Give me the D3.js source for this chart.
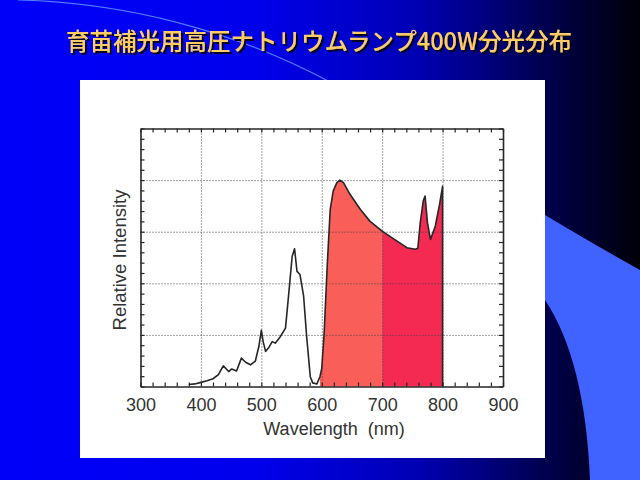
<!DOCTYPE html>
<html>
<head>
<meta charset="utf-8">
<script src="https://cdn.jsdelivr.net/npm/d3@7"></script>
<style>
  html, body { margin: 0; padding: 0; background: #000; }
  svg { display: block; }
</style>
</head>
<body>
<svg id="chart" width="640" height="480"></svg>
<script>
// ---- data ----
const title = "育苗補光用高圧ナトリウムランプ400W分光分布";
const xLabel = "Wavelength  (nm)";
const yLabel = "Relative Intensity";
const xTickLabels = [300, 400, 500, 600, 700, 800, 900];
const wavelength = [380, 390, 400, 410, 420, 429, 437, 446, 451, 459, 467, 474, 482, 490, 496, 500, 503, 507, 512, 518, 523, 531, 540, 545, 551, 555, 559, 564, 570, 575, 581, 585, 592, 597, 600, 604, 609, 614, 619, 625, 630, 636, 647, 664, 680, 700, 719, 741, 755, 759, 763, 768, 771, 775, 780, 788, 795, 800, 800];
const intensity  = [0.04, 0.05, 0.08, 0.11, 0.15, 0.23, 0.40, 0.29, 0.34, 0.30, 0.55, 0.47, 0.42, 0.49, 0.78, 1.09, 0.87, 0.68, 0.75, 0.87, 0.84, 0.96, 1.13, 1.75, 2.52, 2.67, 2.23, 2.17, 1.75, 0.97, 0.19, 0.07, 0.05, 0.19, 0.35, 1.04, 2.33, 3.43, 3.79, 3.95, 4.00, 3.95, 3.72, 3.43, 3.20, 3.01, 2.86, 2.69, 2.66, 2.68, 3.17, 3.60, 3.69, 3.17, 2.85, 3.11, 3.53, 3.88, 0.00];
const bandStarts = [597, 700];
const bandEnds   = [700, 800];
const bandColors = ["#fa5e58", "#f42a52"];

const svg = d3.select("#chart");
const defs = svg.append("defs");

// ---- slide background ----
const grad = defs.append("linearGradient").attr("id", "bg").attr("x1", "0").attr("x2", "1").attr("y1", "0").attr("y2", "0");
[[0, "#0000fa"], [0.4, "#0000ec"], [0.65, "#0000b4"], [0.85, "#000050"], [1, "#000008"]]
  .forEach(([o, c]) => grad.append("stop").attr("offset", o).attr("stop-color", c));
svg.append("rect").attr("width", 640).attr("height", 480).attr("fill", "url(#bg)");

const shadow = defs.append("filter").attr("id", "shadow").attr("x", "-5%").attr("y", "-20%").attr("width", "110%").attr("height", "150%");
shadow.append("feDropShadow").attr("dx", 2).attr("dy", 2).attr("stdDeviation", 0).attr("flood-color", "#000020").attr("flood-opacity", 1);

// decorative arc
svg.append("path").attr("d", "M 18,0 A 702 702 0 0 1 330,82")
  .attr("fill", "none").attr("stroke", "#4f7cff").attr("stroke-width", 1.2);
// decorative bottom-right shape
svg.append("path")
  .attr("d", "M 470,175 L 545,215 Q 595,245 640,270 L 640,480 L 590,480 Q 585,360 545,300 Q 520,262 470,240 Z")
  .attr("fill", "#4062ff");

// ---- white chart panel ----
svg.append("rect").attr("x", 80).attr("y", 80).attr("width", 465).attr("height", 378).attr("fill", "#ffffff");

// ---- scales ----
const pL = 140.5, pR = 503, pT = 128.5, pB = 386.5;
const x = d3.scaleLinear().domain([300, 900]).range([pL, pR]);
const y = d3.scaleLinear().domain([0, 5]).range([pB, pT]);
const ink = "#262626";

const plot = svg.append("g");

// filled bands
const pts = wavelength.map((w, i) => ({ w, v: intensity[i] }));
const area = d3.area().x(d => x(d.w)).y0(y(0)).y1(d => y(d.v));
bandStarts.forEach((s, i) => {
  const e = bandEnds[i];
  let seg = pts.filter(d => d.w >= s && d.w <= e);
  if (i === bandStarts.length - 1) seg = seg.filter(d => !(d.w === e && d.v === 0));
  plot.append("path").datum(seg).attr("d", area).attr("fill", bandColors[i]);
});

// gridlines
const grid = plot.append("g");
grid.append("g").attr("transform", `translate(0,${pB})`)
  .call(d3.axisBottom(x).tickValues(xTickLabels.slice(1, -1)).tickSize(-(pB - pT)).tickFormat(""))
  .call(g => g.select(".domain").remove());
grid.append("g").attr("transform", `translate(${pL},0)`)
  .call(d3.axisLeft(y).tickValues([1, 2, 3, 4]).tickSize(-(pR - pL)).tickFormat(""))
  .call(g => g.select(".domain").remove());
grid.selectAll("line").attr("stroke", "#444").attr("stroke-width", 1).attr("stroke-dasharray", "1,2");

// spectrum line
const line = d3.line().x(d => x(d.w)).y(d => y(d.v));
plot.append("path").datum(pts).attr("d", line)
  .attr("fill", "none").attr("stroke", ink).attr("stroke-width", 1.6).attr("stroke-linejoin", "round");

// frame ticks (inward)
const minorX = d3.range(300, 901, 20);
const minorY = d3.range(0, 5.001, 0.2);
function styleAxis(g) {
  g.select(".domain").attr("stroke", ink).attr("stroke-width", 1.6);
  g.selectAll(".tick line").attr("stroke", ink).attr("stroke-width", 1.2);
}
plot.append("g").attr("transform", `translate(0,${pB})`)
  .call(d3.axisBottom(x).tickValues(minorX).tickSize(-4).tickSizeOuter(0).tickFormat("")).call(styleAxis);
plot.append("g").attr("transform", `translate(0,${pT})`)
  .call(d3.axisTop(x).tickValues(minorX).tickSize(-4).tickSizeOuter(0).tickFormat("")).call(styleAxis);
plot.append("g").attr("transform", `translate(${pL},0)`)
  .call(d3.axisLeft(y).tickValues(minorY).tickSize(-4).tickSizeOuter(0).tickFormat("")).call(styleAxis);
plot.append("g").attr("transform", `translate(${pR},0)`)
  .call(d3.axisRight(y).tickValues(minorY).tickSize(-4).tickSizeOuter(0).tickFormat("")).call(styleAxis);

// tick labels
const labelAxis = plot.append("g").attr("transform", `translate(0,${pB})`)
  .call(d3.axisBottom(x).tickValues(xTickLabels).tickSize(0).tickFormat(d3.format("d")));
labelAxis.select(".domain").remove();
labelAxis.selectAll("text")
  .attr("y", 24).attr("dy", 0)
  .attr("font-family", "Liberation Sans, Arial, Helvetica, sans-serif")
  .attr("font-size", 18).attr("fill", "#333");

// axis titles
svg.append("text").attr("x", 334).attr("y", 435).attr("text-anchor", "middle")
  .attr("font-family", "Liberation Sans, Arial, Helvetica, sans-serif")
  .attr("font-size", 18).attr("fill", "#333").style("white-space", "pre").text(xLabel);
svg.append("text").attr("transform", "translate(125.5,260) rotate(-90)").attr("text-anchor", "middle")
  .attr("font-family", "Liberation Sans, Arial, Helvetica, sans-serif")
  .attr("font-size", 18.5).attr("fill", "#333").text(yLabel);

// ---- title (single text with drop shadow) ----
const tf = "'Noto Sans CJK JP', 'Noto Sans CJK SC', sans-serif";
svg.append("text").attr("x", 319).attr("y", 50).attr("text-anchor", "middle")
  .attr("font-family", tf).attr("font-size", 24).attr("font-weight", 500)
  .attr("textLength", 506).attr("lengthAdjust", "spacingAndGlyphs")
  .attr("fill", "#ffcc66").attr("filter", "url(#shadow)").text(title);
</script>
</body>
</html>
